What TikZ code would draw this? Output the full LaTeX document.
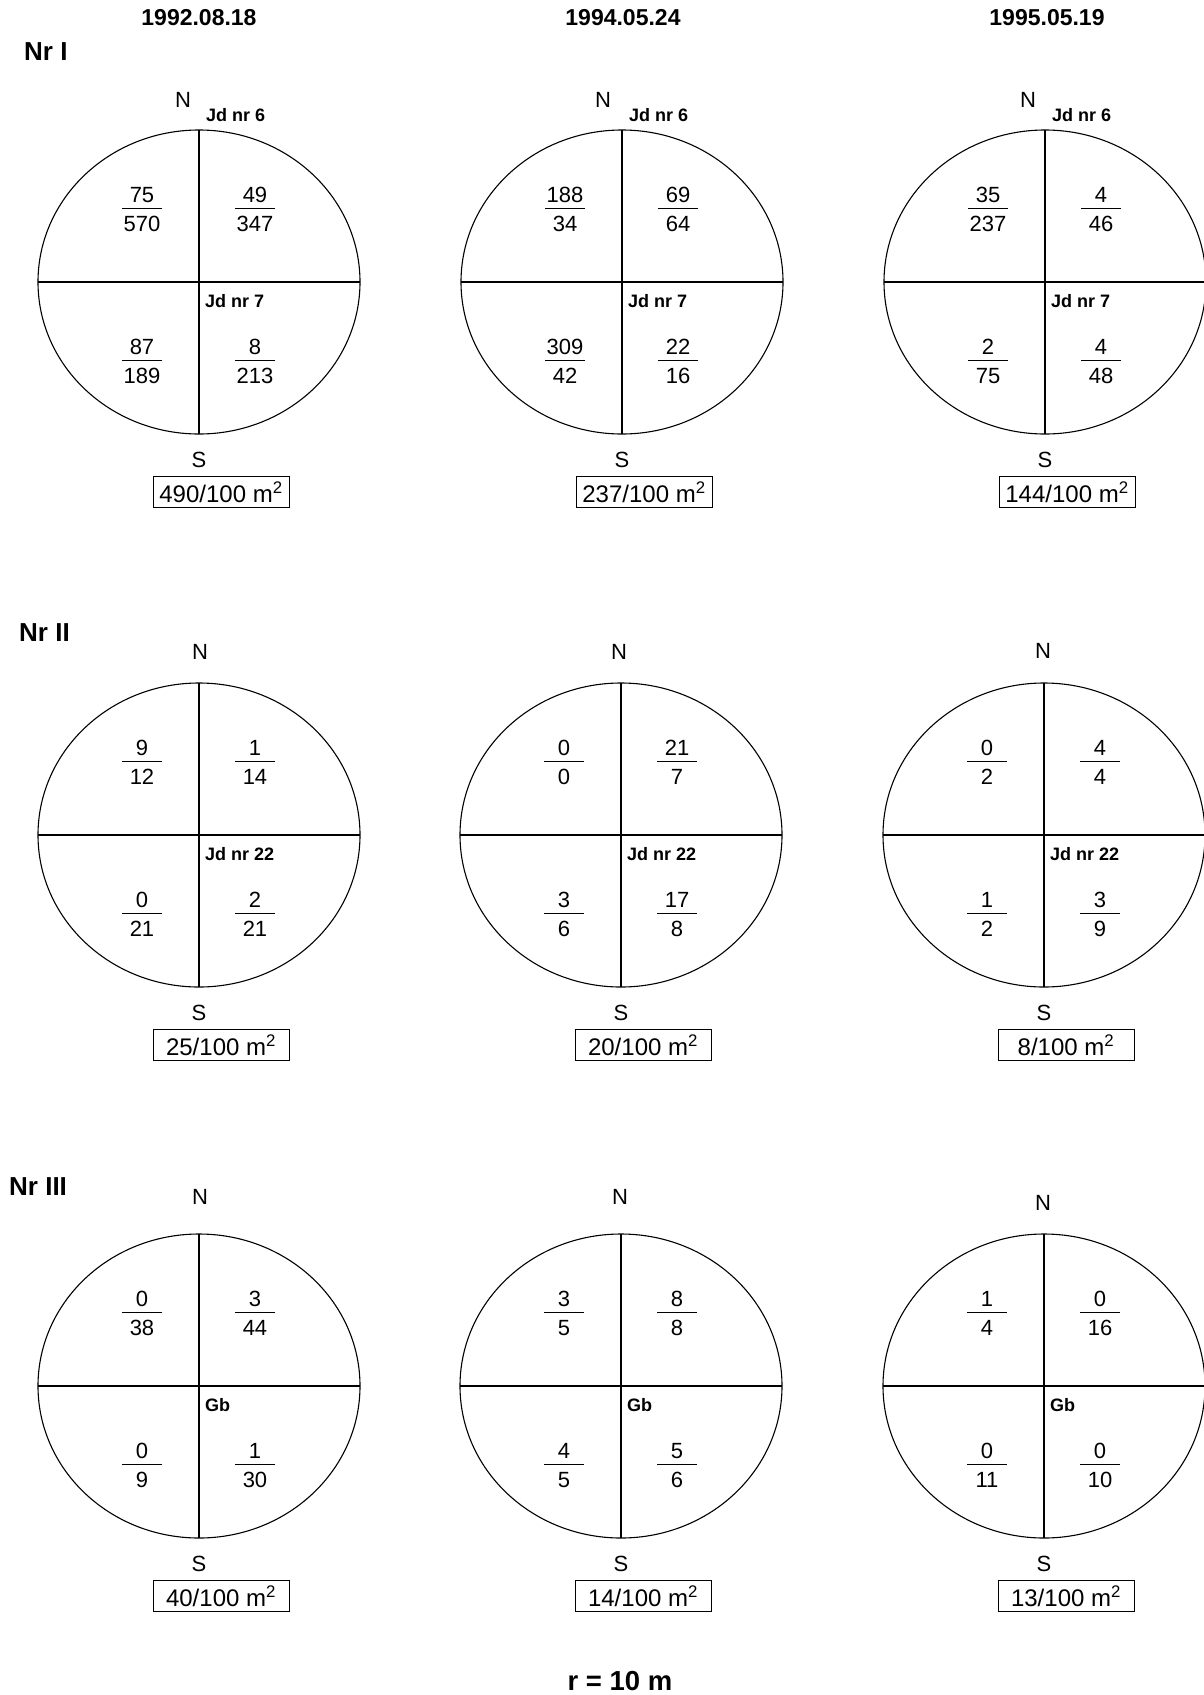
\documentclass[tikz,border=0pt]{standalone}
\usepackage{fontspec}
\setmainfont{Liberation Sans}
\usepackage{tikz}

\tikzset{
  cnt/.style={font=\fontsize{22}{26}\selectfont, anchor=base, inner sep=0pt},
  lbl/.style={font=\fontsize{22}{26}\selectfont, inner sep=0pt},
  jd/.style={font=\bfseries\fontsize{18}{21}\selectfont, anchor=west, inner sep=0pt},
  hdr/.style={font=\bfseries\fontsize{23}{27}\selectfont, inner sep=0pt},
  rowlbl/.style={font=\bfseries\fontsize{26}{30}\selectfont, anchor=west, inner sep=0pt},
  totbox/.style={draw, line width=.9pt, minimum width=136pt, minimum height=31pt,
    inner sep=0pt, font=\fontsize{24}{28}\selectfont},
  plotline/.style={line width=1.1pt},
  fracbar/.style={line width=.9pt},
}

% numerator over denominator, bar at (x,y)
\newcommand\cellfrac[5]{%
  \node[cnt] (#1-n) at (#2,#3-6) {#4};
  \draw[fracbar] (#2-20,#3) -- (#2+20,#3);
  \node[cnt] (#1-d) at (#2,#3+23) {#5};}

\begin{document}
\begin{tikzpicture}[x=1pt,y=-1pt]
      \useasboundingbox (0,0) rectangle (1204,1695);
      \node[hdr] (d1) at (199,18) {1992.08.18};
      \node[hdr] (d2) at (623,18) {1994.05.24};
      \node[hdr] (d3) at (1047,18) {1995.05.19};
      \node[rowlbl] (r1) at (24,52) {Nr I};
      \node[rowlbl] (r2) at (19,633) {Nr II};
      \node[rowlbl] (r3) at (9,1187) {Nr III};
      \foreach \cx in {199,622,1045}
        \node[jd] (top\cx) at (\cx+7,115) {Jd nr 6};
      \foreach \i/\cx/\cy/\nx/\ny/\lab/\pa/\qa/\pb/\qb/\pc/\qc/\pd/\qd/\tot in {
        1/199/282/183/100/Jd nr 7/75/570/49/347/87/189/8/213/490,
        2/622/282/603/100/Jd nr 7/188/34/69/64/309/42/22/16/237,
        3/1045/282/1028/100/Jd nr 7/35/237/4/46/2/75/4/48/144,
        4/199/835/200/652/Jd nr 22/9/12/1/14/0/21/2/21/25,
        5/621/835/619/652/Jd nr 22/0/0/21/7/3/6/17/8/20,
        6/1044/835/1043/651/Jd nr 22/0/2/4/4/1/2/3/9/8,
        7/199/1386/200/1197/Gb/0/38/3/44/0/9/1/30/40,
        8/621/1386/620/1197/Gb/3/5/8/8/4/5/5/6/14,
        9/1044/1386/1043/1203/Gb/1/4/0/16/0/11/0/10/13}{
        \draw[plotline] (\cx,\cy) ellipse [x radius=161, y radius=152];
        \draw[plotline] (\cx,\cy-152) -- (\cx,\cy+152);
        \draw[plotline] (\cx-161,\cy) -- (\cx+161,\cy);
        \node[lbl] (N\i) at (\nx,\ny) {N};
        \node[lbl] (S\i) at (\cx,\cy+178) {S};
        \node[totbox] (T\i) at (\cx+22,\cy+210) {\tot/100 m\textsuperscript{2}};
        \node[jd] (J\i) at (\cx+6,\cy+19) {\lab};
        \cellfrac{nw\i}{\cx-57}{\cy-74}{\pa}{\qa}
        \cellfrac{ne\i}{\cx+56}{\cy-74}{\pb}{\qb}
        \cellfrac{sw\i}{\cx-57}{\cy+78}{\pc}{\qc}
        \cellfrac{se\i}{\cx+56}{\cy+78}{\pd}{\qd}
      }
      \node[font=\bfseries\fontsize{27.5}{32}\selectfont] (rad) at (620,1681) {r = 10 m};
    \end{tikzpicture}
\end{document}
